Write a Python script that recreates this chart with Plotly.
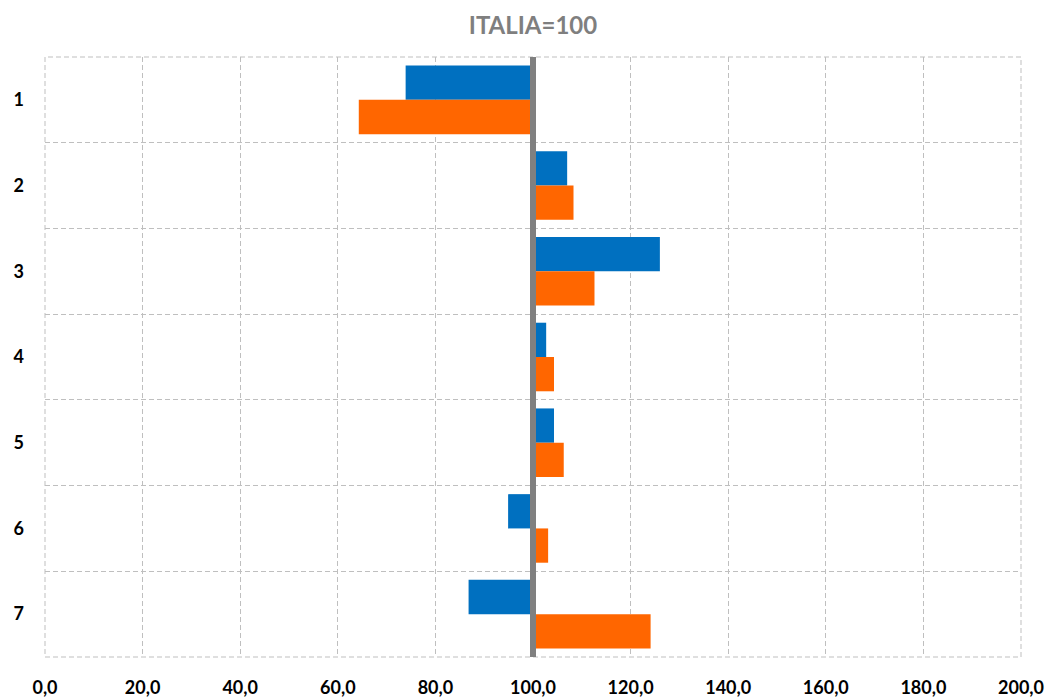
import plotly.graph_objects as go

# Index values (ITALIA = 100) for the seven groups
categories = ["1", "2", "3", "4", "5", "6", "7"]
serie_blu = [73.9, 107.0, 126.0, 102.7, 104.3, 94.9, 86.8]
serie_arancio = [64.3, 108.3, 112.6, 104.3, 106.3, 103.1, 124.1]
base_italia = 100
x_ticks = [0, 20, 40, 60, 80, 100, 120, 140, 160, 180, 200]
x_tick_labels = ["0,0", "20,0", "40,0", "60,0", "80,0", "100,0",
                 "120,0", "140,0", "160,0", "180,0", "200,0"]

FONT = "Lato, 'Open Sans', sans-serif"
GRID = "#BFBFBF"
DASH = "5px,3px"

fig = go.Figure()
for values, color in [(serie_blu, "#0070C0"), (serie_arancio, "#FF6600")]:
    fig.add_trace(go.Bar(
        y=categories,
        x=[v - base_italia for v in values],
        base=base_italia,
        orientation="h",
        marker=dict(color=color, line=dict(width=0)),
        showlegend=False,
    ))

# Dashed frame around the plotting area
fig.add_shape(type="rect", xref="paper", yref="paper",
              x0=0, x1=1, y0=0, y1=1,
              line=dict(color=GRID, width=1, dash=DASH), layer="below")

# Reference line at the national value
fig.add_shape(type="line", xref="x", yref="paper",
              x0=base_italia, x1=base_italia, y0=0, y1=1,
              line=dict(color="#808080", width=6), layer="above")

fig.update_layout(
    width=1049, height=697,
    margin=dict(l=45, r=28, t=57, b=40),
    paper_bgcolor="white", plot_bgcolor="white",
    barmode="group", bargap=0.2, bargroupgap=0,
    title=dict(text="<b>ITALIA=100</b>", x=0.5, xref="paper",
               xanchor="center", y=0.963, yanchor="middle",
               font=dict(family=FONT, size=24, color="#7F7F7F")),
    font=dict(family=FONT),
)
fig.update_xaxes(
    range=[0, 200], tickvals=x_ticks, ticktext=x_tick_labels,
    showgrid=True, gridcolor=GRID, gridwidth=1, griddash=DASH,
    zeroline=False, showline=False, ticks="",
    ticklabelstandoff=18, automargin=False,
    tickfont=dict(family=FONT, size=18, color="black", weight="bold"),
)
fig.update_yaxes(
    type="category", autorange="reversed", tickson="boundaries",
    showgrid=True, gridcolor=GRID, gridwidth=1, griddash=DASH,
    zeroline=False, showline=False, ticks="",
    ticklabelstandoff=20, automargin=False,
    tickfont=dict(family=FONT, size=18, color="black", weight="bold"),
)

fig.write_html("out.html")
